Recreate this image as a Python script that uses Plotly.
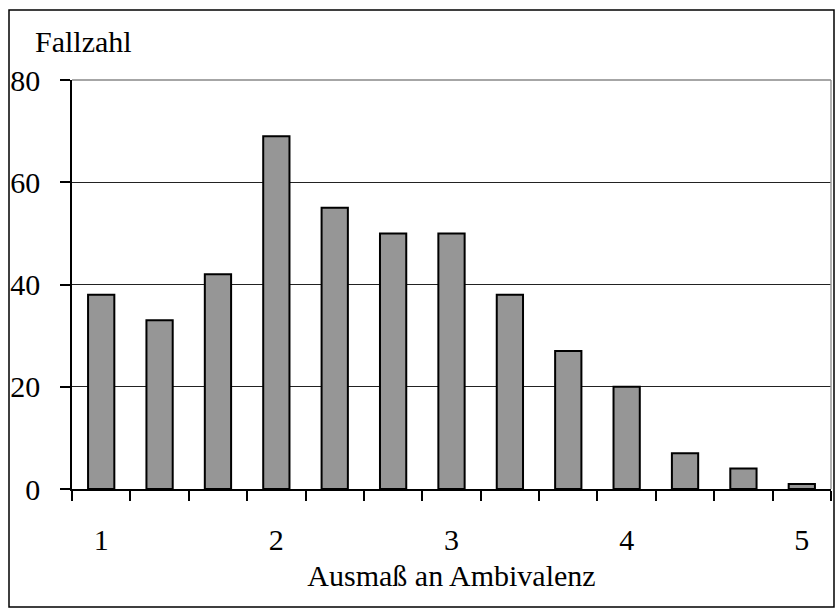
import plotly.graph_objects as go

categories = list(range(13))
values = [38, 33, 42, 69, 55, 50, 50, 38, 27, 20, 7, 4, 1]
label_positions = [0, 3, 6, 9, 12]
label_texts = ["1", "2", "3", "4", "5"]
y_ticks = [0, 20, 40, 60, 80]
boundaries = [c - 0.5 for c in categories] + [categories[-1] + 0.5]

FONT = "Liberation Serif, Times New Roman, serif"

fig = go.Figure()
fig.add_trace(go.Bar(
    x=categories, y=values, width=0.45,
    marker=dict(color="#969696", line=dict(color="black", width=2)),
    showlegend=False,
))

L, R, T, B = 72, 5, 80, 120
W, H = 836, 609
pw, ph = W - L - R, H - T - B

fig.update_layout(
    width=W, height=H,
    margin=dict(l=L, r=R, t=T, b=B),
    plot_bgcolor="white", paper_bgcolor="white",
    font=dict(family=FONT, size=30, color="black"),
    xaxis=dict(
        range=[-0.5, 12.5],
        tickmode="array", tickvals=label_positions, ticktext=label_texts,
        ticks="", showgrid=False, zeroline=False,
        showline=True, linecolor="black", linewidth=1.5,
        ticklabelstandoff=23,
        minor=dict(tickmode="array", tickvals=boundaries, ticks="outside",
                   ticklen=10, tickcolor="black", tickwidth=1.5, showgrid=False),
        title=dict(text="Ausmaß an Ambivalenz", font=dict(size=30), standoff=10),
    ),
    yaxis=dict(
        range=[0, 80],
        tickmode="array", tickvals=y_ticks,
        ticks="outside", ticklen=10, tickcolor="black", tickwidth=1.5,
        showgrid=True, gridcolor="#222222", gridwidth=1,
        zeroline=False,
        showline=True, linecolor="black", linewidth=1.5,
        ticklabelstandoff=14,
    ),
    annotations=[dict(
        text="Fallzahl", xref="paper", yref="paper",
        x=(33 - L) / pw, y=(H - B - 42) / ph,
        xanchor="left", yanchor="middle", showarrow=False,
        font=dict(size=30),
    )],
    shapes=[
        dict(type="rect", xref="paper", yref="paper",
             x0=(9 - L) / pw, x1=(834 - L) / pw,
             y0=(H - B - 607) / ph, y1=(H - B - 10) / ph,
             line=dict(color="black", width=1.5), layer="below"),
        dict(type="line", xref="paper", yref="paper", x0=1, x1=1, y0=0, y1=1,
             line=dict(color="#999999", width=1.5)),
        dict(type="line", xref="paper", yref="paper", x0=0, x1=1, y0=1, y1=1,
             line=dict(color="#888888", width=1.5)),
    ],
)

fig.write_html("out.html", config={"displayModeBar": False},
               post_script="document.body.style.margin='0';")
